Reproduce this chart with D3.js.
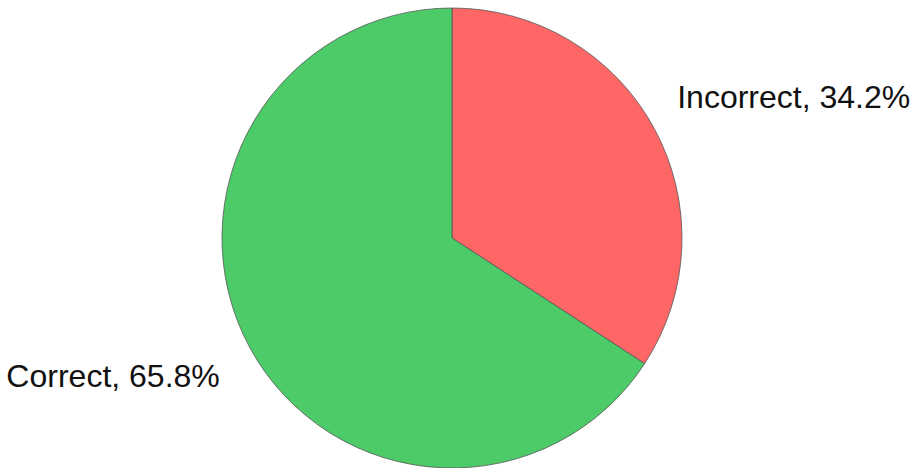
<!DOCTYPE html>
<head>
<meta charset="utf-8">
<title>Correct vs Incorrect</title>
<script src="https://cdn.jsdelivr.net/npm/d3@7"></script>
<style>
	body { margin: 0; background: #fff; }
	.label { font: 32px "Liberation Sans", Arial, sans-serif; fill: #111; }
</style>
</head>
<body>
<script>
var width = 919;
var height = 468;
var cx = 452, cy = 238, radius = 230;

// data
var categories = ["Incorrect", "Correct"];
var percents = [34.2, 65.8];
var colors = ["#ff6666", "#4ccb68"];

var svg = d3.select("body").append("svg")
	.attr("width", width)
	.attr("height", height);

var g = svg.append("g").attr("transform", "translate(" + cx + "," + cy + ")");

var pie = d3.pie().sort(null).value(function(d) { return d; });
var arcs = pie(percents);

var arc = d3.arc().innerRadius(0).outerRadius(radius);
var labelArc = d3.arc().innerRadius(255).outerRadius(255);

g.selectAll("path").data(arcs).enter().append("path")
	.attr("d", arc)
	.style("fill", function(d, i) { return colors[i]; })
	.style("stroke", "#555")
	.style("stroke-width", 0.8);

// labels outside, left/right aligned
var offsets = [[1, -9, "start"], [-8, 28, "end"]];
g.selectAll("text").data(arcs).enter().append("text")
	.attr("class", "label")
	.attr("x", function(d, i) { return labelArc.centroid(d)[0] + offsets[i][0]; })
	.attr("y", function(d, i) { return labelArc.centroid(d)[1] + offsets[i][1]; })
	.attr("text-anchor", function(d, i) { return offsets[i][2]; })
	.text(function(d, i) { return categories[i] + ", " + percents[i].toFixed(1) + "%"; });
</script>
</body>
